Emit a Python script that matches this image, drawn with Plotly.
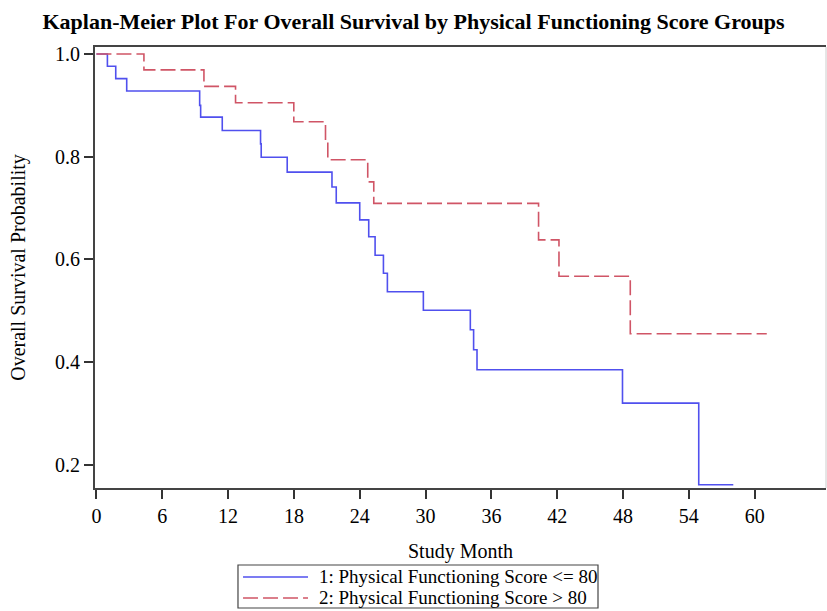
import plotly.graph_objects as go

# Group 1: Physical Functioning Score <= 80
months_g1 = [0, 1.0, 1.76, 2.76, 9.41, 9.5, 11.47, 14.96, 15.02, 17.39, 21.47, 21.86,
             24.0, 24.82, 25.4, 26.16, 26.52, 29.8, 34.08, 34.38, 34.69, 47.95, 54.9, 58.05]
surv_g1 = [1.0, 0.976, 0.952, 0.928, 0.900, 0.877, 0.851, 0.825, 0.799, 0.770, 0.741, 0.710,
           0.677, 0.644, 0.608, 0.573, 0.537, 0.501, 0.463, 0.424, 0.385, 0.320, 0.161, 0.161]

# Group 2: Physical Functioning Score > 80
months_g2 = [0, 4.33, 9.8, 12.68, 17.99, 20.88, 21.09, 24.73, 25.28, 40.3, 42.16, 48.66, 61.1]
surv_g2 = [1.0, 0.969, 0.937, 0.905, 0.868, 0.831, 0.794, 0.751, 0.709, 0.638, 0.567, 0.455, 0.455]

group_names = ["1: Physical Functioning Score <= 80", "2: Physical Functioning Score > 80"]

x_ticks = [0, 6, 12, 18, 24, 30, 36, 42, 48, 54, 60]
y_ticks = [0.2, 0.4, 0.6, 0.8, 1.0]
y_tick_labels = ["0.2", "0.4", "0.6", "0.8", "1.0"]

FONT = "Liberation Serif"
COLORS = ["#5050ee", "#d05566"]
DASHES = ["solid", "15px,5px"]

fig = go.Figure()
fig.add_trace(go.Scatter(
    x=months_g1, y=surv_g1, mode="lines", line_shape="hv",
    line=dict(color=COLORS[0], width=1.6, dash=DASHES[0]),
    name=group_names[0], showlegend=False))
fig.add_trace(go.Scatter(
    x=months_g2, y=surv_g2, mode="lines", line_shape="hv",
    line=dict(color=COLORS[1], width=1.6, dash=DASHES[1]),
    name=group_names[1], showlegend=False))

fig.update_layout(
    width=827, height=611,
    margin=dict(l=95, r=1, t=47, b=123, autoexpand=False),
    paper_bgcolor="white", plot_bgcolor="white",
    font=dict(family=FONT, size=20, color="black"),
    title=dict(text="<b>Kaplan-Meier Plot For Overall Survival by Physical Functioning Score Groups</b>",
               x=0.5, xanchor="center", y=0.965, yanchor="middle",
               font=dict(family=FONT, size=22, color="black")),
    showlegend=False,
)

fig.update_xaxes(
    range=[-0.13, 66.5], tickmode="array", tickvals=x_ticks,
    ticks="outside", ticklen=9, tickwidth=1.5, tickcolor="#333333",
    showline=True, linecolor="#444444", linewidth=2, mirror=True,
    showgrid=False, zeroline=False,
    title=dict(text="Study Month", standoff=18, font=dict(family=FONT, size=20)),
    tickfont=dict(family=FONT, size=20),
)
fig.update_yaxes(
    range=[0.1547, 1.0136], tickmode="array", tickvals=y_ticks, ticktext=y_tick_labels,
    ticks="outside", ticklen=9, tickwidth=1.5, tickcolor="#333333",
    showline=True, linecolor="#444444", linewidth=2,
    showgrid=False, zeroline=False,
    title=dict(text="Overall Survival Probability", standoff=24, font=dict(family=FONT, size=20)),
    tickfont=dict(family=FONT, size=20),
)

# right frame edge
fig.add_shape(type="line", xref="paper", yref="paper", x0=1, x1=1, y0=0, y1=1,
              line=dict(color="#cccccc", width=1))

# legend box below the plot (paper coordinates)
fig.add_shape(type="rect", xref="paper", yref="paper",
              x0=0.1956, x1=0.6881, y0=-0.2721, y1=-0.1746,
              line=dict(color="#444444", width=1.2), fillcolor="white")
legend_rows_y = [-0.2018, -0.2494]
for i in range(2):
    fig.add_shape(type="line", xref="paper", yref="paper",
                  x0=0.2025, x1=0.2914, y0=legend_rows_y[i], y1=legend_rows_y[i],
                  line=dict(color=COLORS[i], width=1.6, dash=DASHES[i]))
    fig.add_annotation(xref="paper", yref="paper", x=0.3037, y=legend_rows_y[i],
                       xanchor="left", yanchor="middle", showarrow=False,
                       text=group_names[i].replace("<", "&lt;").replace(">", "&gt;"),
                       font=dict(family=FONT, size=19, color="black"))

fig.write_html("out.html")
